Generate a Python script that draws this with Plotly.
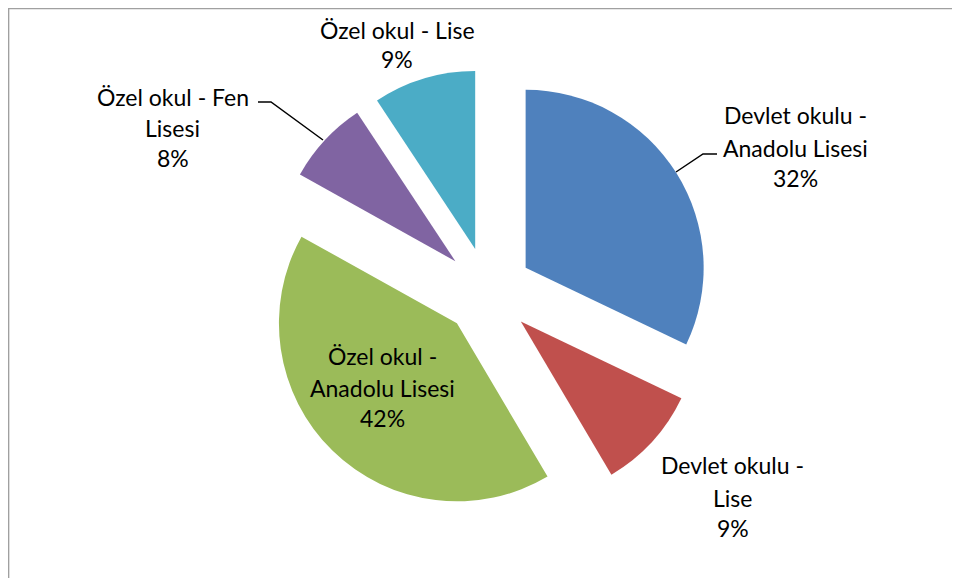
import plotly.graph_objects as go

# Data
categories = [
    "Devlet okulu - Anadolu Lisesi",
    "Devlet okulu - Lise",
    "Özel okul - Anadolu Lisesi",
    "Özel okul - Fen Lisesi",
    "Özel okul - Lise",
]
display_lines = [
    ["Devlet okulu -", "Anadolu Lisesi"],
    ["Devlet okulu -", "Lise"],
    ["Özel okul -", "Anadolu Lisesi"],
    ["Özel okul - Fen", "Lisesi"],
    ["Özel okul - Lise"],
]
values = [32.1, 9.4, 41.6, 7.6, 9.3]  # shares (%)
colors = ["#4F81BD", "#C0504D", "#9BBB59", "#8064A2", "#4BACC6"]

W, H = 960, 578
OFF = 8  # page body margin offset
FONT = "Lato"
FSIZE = 23

def px(x):
    return (x - OFF) / W

def py(y):
    return 1 - (y - OFF) / H

# pie geometry in screen pixels: centre (488, 291.5), radius 178, pull 0.25
cx, cy, R, PULL = 488, 291.5, 178, 0.25
ext = R * (1 + PULL)

fig = go.Figure(go.Pie(
    labels=categories,
    values=values,
    sort=False,
    direction="clockwise",
    rotation=0,
    pull=[PULL] * len(values),
    marker=dict(colors=colors, line=dict(width=0)),
    textinfo="none",
    hoverinfo="label+percent",
    showlegend=False,
    domain=dict(x=[px(cx - ext), px(cx + ext)], y=[py(cy + ext), py(cy - ext)]),
))

total = sum(values)
# label line centres (pixels): x centre, list of y centres per line
label_x = [795.5, 732.5, 382.5, 172.5, 397]
label_y = [
    [116, 149, 179],
    [466, 499, 529],
    [357, 389, 419],
    [98, 129, 159],
    [31.5, 60],
]
annotations = []
for lines, v, x, ys in zip(display_lines, values, label_x, label_y):
    all_lines = lines + [f"{round(100 * v / total)}%"]
    for t, yy in zip(all_lines, ys):
        annotations.append(dict(
            x=px(x), y=py(yy - 1), xref="paper", yref="paper",
            text=t, showarrow=False, xanchor="center", yanchor="middle",
            font=dict(family=FONT, size=FSIZE, color="#000000"),
        ))

shapes = [
    # chart border
    dict(type="rect", xref="paper", yref="paper",
         x0=px(8.6), x1=px(1000), y0=py(640), y1=py(8.6),
         line=dict(color="#a0a0a0", width=1.5), fillcolor="rgba(0,0,0,0)"),
    # leader line: blue
    dict(type="path", xref="paper", yref="paper",
         path=f"M {px(717)} {py(154)} L {px(703)} {py(154)} L {px(676)} {py(172)}",
         line=dict(color="#000000", width=1.5)),
    # leader line: purple
    dict(type="path", xref="paper", yref="paper",
         path=f"M {px(258)} {py(102)} L {px(271)} {py(102)} L {px(323)} {py(140)}",
         line=dict(color="#000000", width=1.5)),
]

fig.update_layout(
    width=W, height=H,
    margin=dict(l=0, r=0, t=0, b=0),
    paper_bgcolor="white",
    plot_bgcolor="white",
    annotations=annotations,
    shapes=shapes,
)

fig.write_html("out.html")
